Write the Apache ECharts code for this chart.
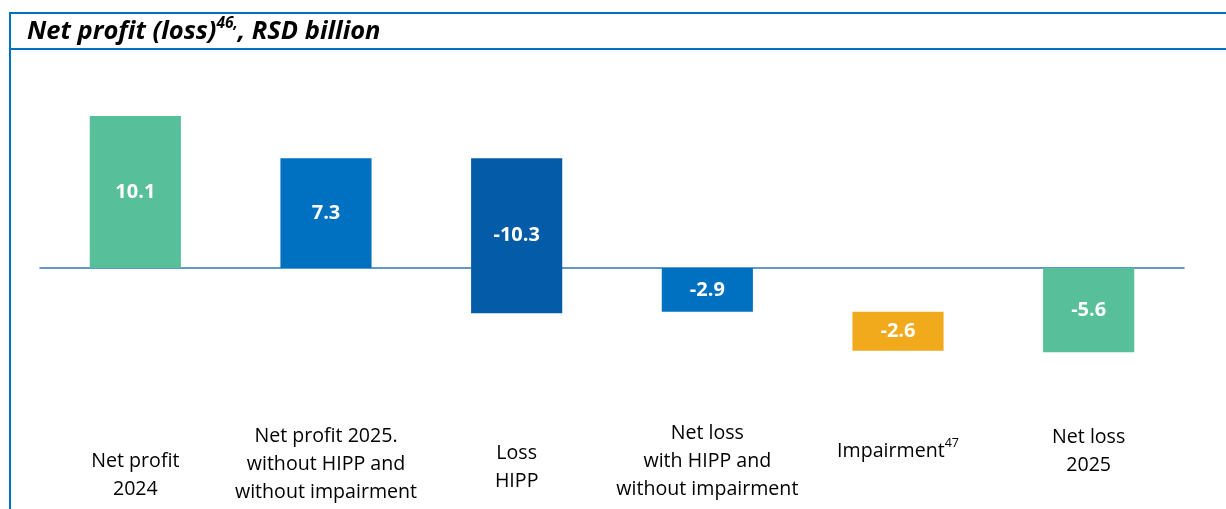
<!DOCTYPE html>
<html><head><meta charset="utf-8">
<script src="https://cdn.jsdelivr.net/npm/echarts@6/dist/echarts.min.js"></script>
<style>html,body{margin:0;padding:0;background:#fff}#c{width:1226px;height:509px}</style>
</head><body><div id="c"></div>
<script>
// ---- data ----
const categories = [
  'Net profit\n2024',
  'Net profit 2025.\nwithout HIPP and\nwithout impairment',
  'Loss\nHIPP',
  'Net loss\nwith HIPP and\nwithout impairment',
  'Impairment{sup|47}',
  'Net loss\n2025'
];
const values = [10.1, 7.3, -10.3, -2.9, -2.6, -5.6];
const barKinds = ['total', 'total', 'delta', 'total', 'delta', 'total'];
const titleMain = 'Net profit (loss)';
const titleSup = '46,';
const titleTail = ', RSD billion';

// ---- styling (not data) ----
const barColors = ['#57BF9A', '#0070C0', '#045BA8', '#0070C0', '#F2AA1D', '#57BF9A'];
const labelPadTop = [28, 3, 20, 0, 18, 4];
const FONT = '"Open Sans", "Noto Sans", sans-serif';

// waterfall start/end from running total
let run = 0;
const bars = values.map((v, i) => {
  let start, end;
  if (barKinds[i] === 'total') { start = 0; end = v; }
  else { start = run; end = run + v; }
  run = end;
  return [i, start, end, v];
});

const chart = echarts.init(document.getElementById('c'));
chart.setOption({
  animation: false,
  backgroundColor: '#fff',
  title: {
    text: '{t|' + titleMain + '}{s|' + titleSup + '}{t|' + titleTail + '}',
    left: 22, top: 11,
    textStyle: {
      rich: {
        t: { fontFamily: FONT, fontWeight: 'bold', fontStyle: 'italic', fontSize: 25.5, color: '#000', lineHeight: 31 },
        s: { fontFamily: FONT, fontWeight: 'bold', fontStyle: 'italic', fontSize: 15.5, color: '#000', verticalAlign: 'top', lineHeight: 31 }
      }
    }
  },
  graphic: [
    { type: 'line', shape: { x1: 9, y1: 13, x2: 1226, y2: 13 }, style: { stroke: '#0070C0', lineWidth: 2 } },
    { type: 'line', shape: { x1: 9, y1: 49, x2: 1226, y2: 49 }, style: { stroke: '#0070C0', lineWidth: 2 } },
    { type: 'line', shape: { x1: 10, y1: 12, x2: 10, y2: 509 }, style: { stroke: '#0070C0', lineWidth: 2 } }
  ],
  grid: { left: 40, right: 42, top: 87.4, bottom: 120.6, containLabel: false },
  xAxis: [
    {
      type: 'category', data: categories, position: 'top',
      axisLine: { onZero: true, lineStyle: { color: '#2F75B5', width: 1.5 } },
      axisTick: { show: false }, axisLabel: { show: false }, splitLine: { show: false }
    },
    {
      type: 'category', position: 'bottom',
      data: categories.map((c, i) => ({ value: c, textStyle: { padding: [labelPadTop[i], 0, 0, 0] } })),
      axisLine: { show: false }, axisTick: { show: false }, splitLine: { show: false },
      axisLabel: {
        interval: 0, margin: 31, verticalAlign: 'top',
        fontFamily: FONT, fontSize: 19.6, lineHeight: 28, color: '#000',
        rich: {
          sup: { fontFamily: FONT, fontSize: 12.5, color: '#000', verticalAlign: 'top', lineHeight: 28 }
        }
      }
    }
  ],
  yAxis: {
    type: 'value', min: -8, max: 12, show: false, splitLine: { show: false }
  },
  series: [{
    type: 'custom',
    xAxisIndex: 0,
    data: bars,
    encode: { x: 0, y: [1, 2] },
    renderItem: (params, api) => {
      const i = api.value(0);
      const p0 = api.coord([i, api.value(1)]);
      const p1 = api.coord([i, api.value(2)]);
      const w = api.size([1, 0])[0] * 0.478;
      const top = Math.min(p0[1], p1[1]);
      const h = Math.abs(p0[1] - p1[1]);
      return {
        type: 'rect',
        shape: { x: p0[0] - w / 2, y: top, width: w, height: h },
        style: { fill: barColors[i] },
        textContent: {
          style: { text: api.value(3).toFixed(1), fill: '#fff', font: 'bold 20px ' + FONT }
        },
        textConfig: { position: 'inside' }
      };
    }
  }]
});
</script>
</body></html>
